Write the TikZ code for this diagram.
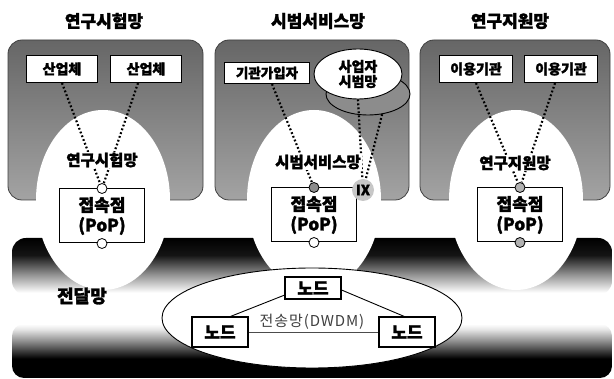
\documentclass[tikz,border=0pt]{standalone}
\usepackage{fontspec}
\setmainfont{Noto Sans CJK KR}[BoldFeatures={FakeBold=1.6}]
\newfontfamily\krspaced{Noto Sans CJK KR}[LetterSpace=6]
\usetikzlibrary{shapes.geometric,calc}
\pgfdeclareverticalshading{bandtop}{100bp}{color(0bp)=(white); color(27bp)=(white); color(42bp)=(black!40); color(60bp)=(black!92); color(75bp)=(black); color(100bp)=(black)}
\pgfdeclareverticalshading{bandbot}{100bp}{color(0bp)=(black); color(43bp)=(black); color(59bp)=(black!45); color(70bp)=(black!10); color(75bp)=(white); color(100bp)=(white)}
\tikzset{
  panel/.style={rounded corners=14pt, top color=black!60, bottom color=black!36, draw=black!75, line width=0.8pt},
  box/.style={draw, fill=white, line width=1.1pt, font=\bfseries\fontsize{14}{16}\selectfont, inner sep=0pt},
  dotline/.style={line width=2.2pt, dash pattern=on 1.8pt off 2.2pt},
  lbl/.style={fill=white, inner sep=1pt, font=\bfseries\fontsize{15.5}{18}\selectfont},
  ttl/.style={inner sep=0pt, font=\bfseries\fontsize{17}{20}\selectfont},
  pop/.style={draw, fill=white, line width=1pt, minimum width=85pt, minimum height=54pt, align=center, inner sep=0pt, font=\bfseries\fontsize{17}{20}\selectfont},
  port/.style={circle, draw, fill=white, minimum size=10pt, inner sep=0pt, line width=0.8pt},
  nd/.style={draw, fill=white, line width=1.1pt, minimum width=56pt, inner sep=0pt, font=\bfseries\fontsize{17}{20}\selectfont},
  link/.style={line width=0.9pt}
}
\begin{document}
\begin{tikzpicture}[x=1pt,y=-1pt]
\useasboundingbox (0,0) rectangle (614,379);
\fill[white] (0,0) rectangle (614,379);
% panels
\path[panel] (8,40) rectangle (203,200);
\path[panel] (215,40) rectangle (409,200);
\path[panel] (420,40) rectangle (610,200);
% transport band
\shade[shading=bandtop, rounded corners=14pt] (12,238) rectangle (612,295);
\shade[shading=bandbot, rounded corners=12pt] (12,324) rectangle (612,378);
% white arches
\fill[white] (103,200) ellipse [x radius=67, y radius=90];
\fill[white] (314,200) ellipse [x radius=67, y radius=90];
\fill[white] (516,200) ellipse [x radius=67, y radius=90];
% PoP boxes
\node[pop] (p1) at (102,216) {접속점\\(PoP)};
\node[pop] (p2) at (314,215) {접속점\\(PoP)};
\node[pop] (p3) at (520,215) {접속점\\(PoP)};
\node[port] (p1t) at (p1.north) {};
\node[port] (p1b) at (p1.south) {};
\node[port, fill=black!45] (p2t) at (p2.north) {};
\node[port] (p2b) at (p2.south) {};
\node[port, fill=black!30] (p3t) at (p3.north) {};
\node[port, fill=black!30] (p3b) at (p3.south) {};
% left panel
\node[box, minimum width=71pt, minimum height=27pt] (s1) at (62,69) {산업체};
\node[box, minimum width=71pt, minimum height=27pt] (s2) at (146,69) {산업체};
\draw[dotline] (s1.south) -- (p1t);
\draw[dotline] ($(s2.south)+(-8,0)$) -- (p1t);
\node[lbl] (l1) at (102,160) {연구시험망};
% middle panel
\node[box, minimum width=85pt, minimum height=21pt, font=\bfseries\fontsize{13.5}{16}\selectfont] (g1) at (267,73) {기관가입자};
\node[ellipse, draw, fill=black!45, line width=0.9pt, minimum width=84pt, minimum height=42pt] (smb) at (368,94) {};
\node[ellipse, draw, fill=white, line width=0.9pt, minimum width=88pt, minimum height=50pt, inner sep=0pt, align=center, font=\bfseries\fontsize{14}{15}\selectfont] (smf) at (358,74) {사업자\\시범망};
\node[circle, fill=black!22, minimum size=22pt, inner sep=0pt, font=\bfseries\fontsize{14}{16}\selectfont] (ix) at (363,190) {IX};
\draw[dotline] ($(g1.south)+(5,0)$) -- (p2t);
\draw[dotline] (smf.south) -- (ix);
\draw[dotline] (smb.-55) -- (ix);
\node[lbl] (l2) at (318,162) {시범서비스망};
% right panel
\node[box, minimum width=73pt, minimum height=27pt] (u1) at (476,69) {이용기관};
\node[box, minimum width=73pt, minimum height=27pt] (u2) at (561,69) {이용기관};
\draw[dotline] (u1.south) -- (p3t);
\draw[dotline] ($(u2.south)+(-6,0)$) -- (p3t);
\node[lbl] (l3) at (515,163) {연구지원망};
% titles
\node[ttl] (t1) at (104,21) {연구시험망};
\node[ttl] (t2) at (318,21) {시범서비스망};
\node[ttl] (t3) at (510,21) {연구지원망};
% transport network
\node[ellipse, draw, fill=white, line width=0.9pt, minimum width=300pt, minimum height=100pt] (tn) at (312,318) {};
\node[inner sep=0pt, text=black!75, font=\krspaced\fontsize{15}{18}\selectfont] (tnl) at (312,322) {전송망(DWDM)};
\node[nd, minimum height=22pt] (n1) at (313,288) {노드};
\node[nd, minimum height=30pt] (n2) at (220,332) {노드};
\node[nd, minimum height=30pt] (n3) at (407,332) {노드};
\draw[link] (n1.194) -- (n2.56);
\draw[link] (n1.-4) -- (n3.100);
\draw[link, black!70] (n2.east) -- (n3.west);
\node[ttl, font=\bfseries\fontsize{18}{20}\selectfont] (dl) at (82,296) {전달망};
\end{tikzpicture}
\end{document}
